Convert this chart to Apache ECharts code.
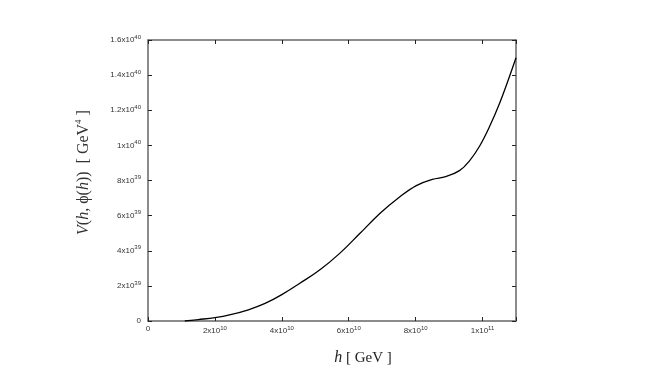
<!DOCTYPE html>
<html>
<head>
<meta charset="utf-8">
<script src="https://cdn.jsdelivr.net/npm/echarts@6/dist/echarts.min.js"></script>
<style>
  html, body { margin: 0; padding: 0; background: #fff; }
</style>
</head>
<body>
<div id="chart" style="width: 667px; height: 375px"></div>
<script>
// h in units of 1e10 GeV, V in units of 1e39 GeV^4
const hValues = [1.1, 1.5, 2.0, 2.5, 3.0, 3.5, 4.0, 4.54, 5.13, 5.73, 6.33, 6.93, 7.52, 8.02, 8.5, 8.9, 9.31, 9.61, 9.91, 10.21, 10.51, 10.76, 11.0]
const vValues = [0, 0.08, 0.19, 0.38, 0.64, 1.0, 1.5, 2.15, 2.9, 3.85, 4.98, 6.12, 7.06, 7.71, 8.06, 8.22, 8.56, 9.12, 9.95, 11.07, 12.4, 13.68, 14.99]

const xTickLabels = ['0', '2x10{s|10}', '4x10{s|10}', '6x10{s|10}', '8x10{s|10}', '1x10{s|11}']
const yTickLabels = ['0', '2x10{s|39}', '4x10{s|39}', '6x10{s|39}', '8x10{s|39}', '1x10{s|40}', '1.2x10{s|40}', '1.4x10{s|40}', '1.6x10{s|40}']

const frameColor = '#666'
const labelColor = '#333'

const tickRich = {
  s: {
    fontSize: 6,
    color: labelColor,
    fontFamily: 'Liberation Sans',
    verticalAlign: 'top',
    padding: [0, 0, 6, 0],
  },
}

const chart = echarts.init(document.getElementById('chart'))

function frameAxis() {
  return {
    show: true,
    axisLine: { show: true, onZero: false, lineStyle: { color: frameColor, width: 1.5 } },
    axisTick: { show: true, inside: true, length: 4, lineStyle: { color: '#222', width: 1 } },
    axisLabel: { show: false },
    splitLine: { show: false },
  }
}

const option = {
  animation: false,
  grid: { left: 148, right: 151, top: 40, bottom: 54 },
  xAxis: [
    {
      ...frameAxis(),
      type: 'value',
      position: 'bottom',
      min: 0,
      max: 11,
      interval: 2,
      axisLabel: {
        show: true,
        fontSize: 8,
        color: labelColor,
        fontFamily: 'Liberation Sans',
        margin: 4,
        formatter: v => xTickLabels[Math.round(v / 2)] ?? '',
        rich: tickRich,
      },
      name: '{i|h} [ GeV ]',
      nameLocation: 'middle',
      nameGap: 29,
      nameTextStyle: {
        fontFamily: 'Liberation Serif',
        fontSize: 15,
        color: '#222',
        padding: [0, 0, 0, 62],
        rich: {
          i: { fontFamily: 'Liberation Serif', fontStyle: 'italic', fontSize: 16, color: '#222' },
        },
      },
    },
    {
      ...frameAxis(),
      type: 'value',
      position: 'top',
      min: 0,
      max: 11,
      interval: 2,
    },
  ],
  yAxis: [
    {
      ...frameAxis(),
      type: 'value',
      position: 'left',
      min: 0,
      max: 16,
      interval: 2,
      axisLabel: {
        show: true,
        fontSize: 8,
        color: labelColor,
        fontFamily: 'Liberation Sans',
        margin: 7,
        formatter: v => yTickLabels[Math.round(v / 2)] ?? '',
        rich: tickRich,
      },
      name: '{i|V}({i|h}, ϕ({i|h}))  [ GeV{s|4} ]',
      nameLocation: 'middle',
      nameGap: 55,
      nameRotate: 90,
      nameTextStyle: {
        fontFamily: 'Liberation Serif',
        fontSize: 16,
        color: '#333',
        padding: [0, 0, 0, 16],
        rich: {
          i: { fontFamily: 'Liberation Serif', fontStyle: 'italic', fontSize: 16, color: '#333' },
          s: { fontFamily: 'Liberation Serif', fontSize: 9, color: '#333', verticalAlign: 'top', padding: [0, 0, 10, 0] },
        },
      },
    },
    {
      ...frameAxis(),
      type: 'value',
      position: 'right',
      min: 0,
      max: 16,
      interval: 2,
    },
  ],
  series: [
    {
      type: 'line',
      data: hValues.map((h, i) => [h, vValues[i]]),
      smooth: 0.4,
      showSymbol: false,
      lineStyle: { color: '#000', width: 1.3 },
    },
  ],
}

chart.setOption(option)
</script>
</body>
</html>
